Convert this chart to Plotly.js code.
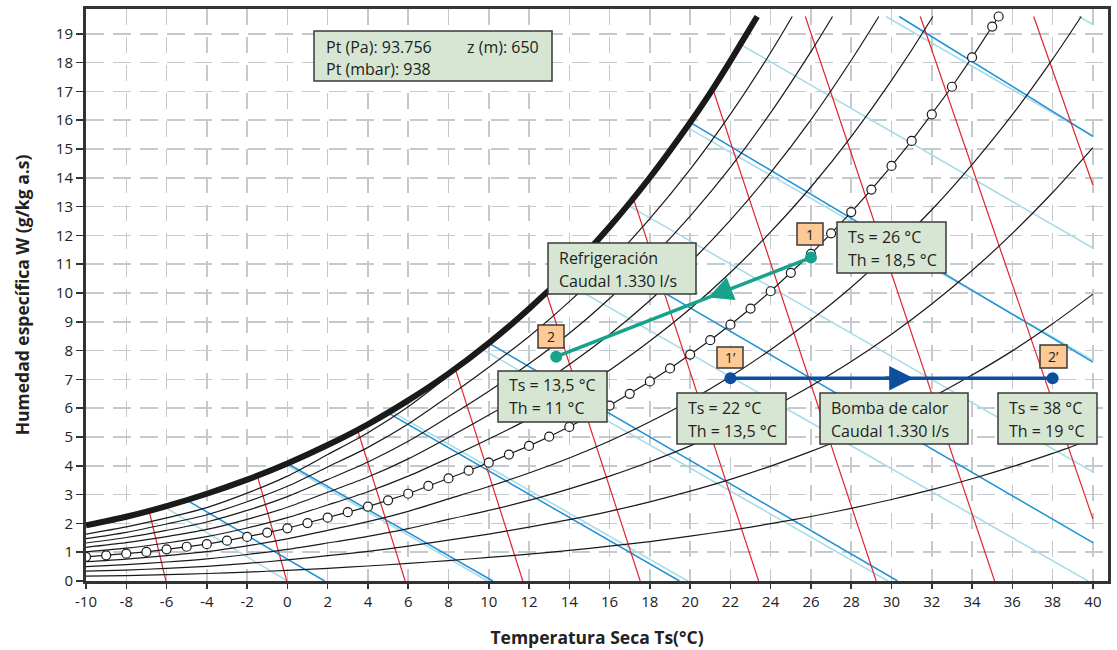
<!DOCTYPE html>
<html>
<head>
<meta charset="utf-8">
<script src="https://cdn.plot.ly/plotly-3.0.1.min.js"></script>
<style>html,body{margin:0;padding:0;background:#fff;}#chart{width:1117px;height:650px;}</style>
</head>
<body>
<div id="chart"></div>
<script>
// ---------------- DATA ----------------
// Saturation curve (thick)
const satT = [-10,-8,-6,-4,-2,0,2,4,6,8,10,12,14,16,18,20,21,22,23,23.33];
const satW = [1.93,2.23,2.60,3.03,3.52,4.08,4.72,5.44,6.27,7.20,8.26,9.45,10.79,12.30,14.01,15.92,16.95,18.06,19.22,19.6];

// Relative humidity curves (temperature grid + humidity per curve)
const rhT    = [-10,-8,-6,-4,-2,0,2,4,6,8,10,12,14,16,18,20,22,24,26,28,30,32,34,36,38,40];
const rh10W  = [0.17,0.19,0.22,0.26,0.31,0.37,0.44,0.52,0.61,0.71,0.82,0.93,1.06,1.21,1.37,1.56,1.76,1.99,2.24,2.52,2.83,3.17,3.55,3.97,4.43,4.94];
const rh20W  = [0.34,0.38,0.44,0.51,0.61,0.73,0.88,1.03,1.21,1.42,1.63,1.87,2.13,2.42,2.75,3.12,3.53,3.99,4.50,5.06,5.69,6.38,7.15,7.99,8.93,9.96];
const rh30W  = [0.50,0.57,0.66,0.77,0.92,1.10,1.32,1.55,1.82,2.14,2.45,2.80,3.20,3.64,4.14,4.69,5.31,6.00,6.77,7.62,8.57,9.62,10.78,12.07,13.49,15.05];
const rh40W  = [0.67,0.76,0.88,1.02,1.22,1.46,1.76,2.06,2.42,2.85,3.28,3.75,4.27,4.86,5.53,6.27,7.10,8.03,9.06,10.20,11.48,12.89,14.46,16.19,18.12];
const rh60W  = [1.01,1.14,1.32,1.54,1.84,2.20,2.64,3.10,3.64,4.27,4.93,5.63,6.43,7.32,8.33,9.45,10.71,12.12,13.68,15.43,17.38,19.54];
const rh70W  = [1.17,1.33,1.54,1.79,2.14,2.56,3.08,3.61,4.24,4.98,5.76,6.58,7.52,8.56,9.74,11.06,12.53,14.18,16.02,18.08];
const rh80W  = [1.32,1.51,1.76,2.05,2.45,2.93,3.52,4.13,4.85,5.70,6.59,7.54,8.60,9.81,11.16,12.67,14.36,16.26,18.38];
const rh90W  = [1.47,1.69,1.98,2.30,2.75,3.29,3.96,4.64,5.45,6.41,7.42,8.49,9.70,11.05,12.58,14.29,16.21,18.35];
const rh100W = [1.63,1.88,2.19,2.55,3.05,3.64,4.39,5.15,6.05,7.12,8.22,9.43];
// where the curves leave the chart at the top
const rhTopT = [39.42, 32.05, 29.37, 27.07, 25.07]; // 40,60,70,80,90 %
const rhTopW = 19.6;

// 50 % curve with circle markers (every 1 °C)
const circT = [-10,-9,-8,-7,-6,-5,-4,-3,-2,-1,0,1,2,3,4,5,6,7,8,9,10,11,12,13,14,15,16,17,18,19,20,21,22,23,24,25,26,27,28,29,30,31,32,33,34,35,35.32];
const circW = [0.84,0.89,0.95,1.01,1.10,1.19,1.28,1.40,1.53,1.68,1.83,2.01,2.20,2.39,2.58,2.80,3.03,3.30,3.56,3.83,4.11,4.39,4.69,5.01,5.35,5.71,6.09,6.50,6.93,7.38,7.86,8.36,8.90,9.46,10.06,10.70,11.36,12.07,12.81,13.59,14.41,15.28,16.20,17.16,18.18,19.25,19.6];

// Wet-bulb lines (blue)
const wbStartT = [-5, 0, 5, 10, 15, 20, 30.38];
const wbStartW = [2.81, 4.08, 5.84, 8.26, 11.52, 15.92, 19.6];
const wbEndT   = [1.85, 10.2, 19.47, 30.3, 40, 40, 40];
const wbEndW   = [0, 0, 0, 0, 1.33, 7.60, 15.44];

// Enthalpy lines (light blue)
const hStartT = [-6.1, -0.1, 5.14, 9.66, 13.55, 16.9, 19.85, 22.45, 29.72, 39.31];
const hStartW = [2.57, 4.05, 5.90, 8.05, 10.47, 13.05, 15.75, 18.65, 19.6, 19.6];
const hEndT   = [0, 9.94, 19.88, 29.82, 39.76, 40, 40, 40, 40, 40];
const hEndW   = [0, 0, 0, 0, 0, 3.79, 7.67, 11.56, 15.45, 19.32];

// Specific volume lines (red)
const vStartT = [-6.87, -1.49, 3.48, 8.33, 12.86, 17.18, 21.12, 25.72, 31.43, 37.06];
const vStartW = [2.44, 3.65, 5.25, 7.38, 10.0, 13.28, 17.1, 19.6, 19.6, 19.6];
const vEndT   = [-6.03, -0.03, 5.85, 11.69, 17.52, 23.4, 29.24, 35.12, 40, 40];
const vEndW   = [0, 0, 0, 0, 0, 0, 0, 0, 2.16, 13.75];

// Processes
const coolT = [26, 13.35];      // 1 -> 2
const coolW = [11.23, 7.79];
const coolArrowT = [22.0, 20.9]; // tail, tip
const coolArrowW = [10.14, 9.84];
const heatT = [22, 38];         // 1' -> 2'
const heatW = [7.04, 7.04];
const heatArrowT = [29.6, 31.1];
const heatArrowW = [7.04, 7.04];

const xTicks = [-10,-8,-6,-4,-2,0,2,4,6,8,10,12,14,16,18,20,22,24,26,28,30,32,34,36,38,40];
const yTicks = [0,1,2,3,4,5,6,7,8,9,10,11,12,13,14,15,16,17,18,19];

// ---------------- BUILD ----------------
const L = 86, R = 1108, T = 9, B = 581;
const XR = [-10, 40.75], YR = [0, 19.86];
const px2x = p => XR[0] + (p - L) * (XR[1] - XR[0]) / (R - L);
const py2y = p => YR[0] + (B - p) * (YR[1] - YR[0]) / (B - T);

function segs(sx, sy, ex, ey) {
  const x = [], y = [];
  for (let i = 0; i < sx.length; i++) { x.push(sx[i], ex[i], null); y.push(sy[i], ey[i], null); }
  return {x, y};
}
const traces = [];
const hl = segs(hStartT, hStartW, hEndT, hEndW);
traces.push({x: hl.x, y: hl.y, mode: 'lines', line: {color: '#a9dce8', width: 1.6}, hoverinfo: 'skip'});
const wl = segs(wbStartT, wbStartW, wbEndT, wbEndW);
traces.push({x: wl.x, y: wl.y, mode: 'lines', line: {color: '#1e90d8', width: 1.5}, hoverinfo: 'skip'});
const vl = segs(vStartT, vStartW, vEndT, vEndW);
traces.push({x: vl.x, y: vl.y, mode: 'lines', line: {color: '#e3242b', width: 1.2}, hoverinfo: 'skip'});

function rhTrace(W, topT) {
  const x = rhT.slice(0, W.length), y = W.slice();
  if (topT !== undefined) { x.push(topT); y.push(rhTopW); }
  return {x, y, mode: 'lines', line: {color: '#1a1a1a', width: 1.2, shape: 'spline', smoothing: 0.8}, hoverinfo: 'skip'};
}
traces.push(rhTrace(rh10W));
traces.push(rhTrace(rh20W));
traces.push(rhTrace(rh30W));
traces.push(rhTrace(rh40W, rhTopT[0]));
traces.push(rhTrace(rh60W, rhTopT[1]));
traces.push(rhTrace(rh70W, rhTopT[2]));
traces.push(rhTrace(rh80W, rhTopT[3]));
traces.push(rhTrace(rh90W, rhTopT[4]));
traces.push(rhTrace(rh100W));
traces.push({x: circT, y: circW, mode: 'lines+markers', line: {color: '#1a1a1a', width: 1.2},
  marker: {size: 9, color: '#ffffff', line: {color: '#1a1a1a', width: 1.2}}, hoverinfo: 'skip'});
traces.push({x: satT, y: satW, mode: 'lines', line: {color: '#1a1a1a', width: 6, shape: 'spline', smoothing: 0.6}, hoverinfo: 'skip'});

traces.push({x: coolT, y: coolW, mode: 'lines+markers', line: {color: '#17a38b', width: 3.5},
  marker: {size: 12, color: '#17a38b'}, hoverinfo: 'skip'});
traces.push({x: heatT, y: heatW, mode: 'lines+markers', line: {color: '#0c4f9e', width: 3.5},
  marker: {size: 12, color: '#0c4f9e'}, hoverinfo: 'skip'});

const shapes = [];
const annotations = [];
const FONT = 'Open Sans, Noto Sans, sans-serif';
function box(x0, y0, x1, y1, fill) {
  shapes.push({type: 'rect', xref: 'x', yref: 'y', x0: px2x(x0), x1: px2x(x1), y0: py2y(y0), y1: py2y(y1),
    fillcolor: fill, line: {color: '#3a3a3a', width: 1.5}, layer: 'above'});
}
function txt(x, y, s, size, anchor) {
  annotations.push({xref: 'x', yref: 'y', x: px2x(x), y: py2y(y), text: s, showarrow: false,
    xanchor: anchor || 'left', yanchor: 'middle', font: {family: FONT, size: size || 16, color: '#222'}});
}
const GREEN = '#d7e6d3', ORANGE = '#fdc995';
box(314, 31, 552, 81, GREEN);
txt(324, 46.5, 'Pt (Pa): 93.756'); txt(465, 46.5, 'z (m): 650'); txt(324, 68.5, 'Pt (mbar): 938');
box(548, 243, 696, 294, GREEN);
txt(557, 258, 'Refrigeración'); txt(557, 281, 'Caudal 1.330 l/s');
box(498, 371, 607, 422, GREEN);
txt(507, 385, 'Ts = 13,5 °C'); txt(507, 407.5, 'Th = 11 °C');
box(677, 393, 786, 444, GREEN);
txt(686, 408, 'Ts = 22 °C'); txt(686, 431, 'Th = 13,5 °C');
box(820, 393, 968, 444, GREEN);
txt(829, 408, 'Bomba de calor'); txt(829, 431, 'Caudal 1.330 l/s');
box(998, 393, 1097, 444, GREEN);
txt(1007, 408, 'Ts = 38 °C'); txt(1007, 431, 'Th = 19 °C');
box(837, 222, 946, 273, GREEN);
txt(846, 237, 'Ts = 26 °C'); txt(846, 259.5, 'Th = 18,5 °C');

box(797, 223, 823, 245, ORANGE); txt(810, 234, '1', 14, 'center');
box(538, 325, 564, 348, ORANGE); txt(551, 336.5, '2', 14, 'center');
box(717, 347, 743, 368, ORANGE); txt(730, 357.5, '1’', 14, 'center');
box(1040, 345, 1067, 368, ORANGE); txt(1053.5, 356.5, '2’', 14, 'center');

annotations.push({xref: 'x', yref: 'y', axref: 'x', ayref: 'y', x: coolArrowT[1], y: coolArrowW[1],
  ax: coolArrowT[0], ay: coolArrowW[0], showarrow: true, arrowhead: 2, arrowsize: 1.4, arrowwidth: 3.5,
  arrowcolor: '#17a38b', text: ''});
annotations.push({xref: 'x', yref: 'y', axref: 'x', ayref: 'y', x: heatArrowT[1], y: heatArrowW[1],
  ax: heatArrowT[0], ay: heatArrowW[0], showarrow: true, arrowhead: 2, arrowsize: 1.4, arrowwidth: 3.5,
  arrowcolor: '#0c4f9e', text: ''});

const layout = {
  width: 1117, height: 650,
  margin: {l: L, r: 1117 - R, t: T, b: 650 - B},
  paper_bgcolor: '#fff', plot_bgcolor: '#fff',
  showlegend: false,
  font: {family: FONT, color: '#222'},
  xaxis: {range: XR, tickvals: xTicks, ticktext: xTicks.map(String), showgrid: true, gridcolor: '#c4c9ce', gridwidth: 1.5,
    griddash: '16px,12px', zeroline: false, showline: true, mirror: true, linecolor: '#333', linewidth: 3,
    ticks: 'outside', ticklen: 5, tickwidth: 1.5, tickcolor: '#333', tickfont: {size: 15, color: '#222'},
    title: {text: '<b>Temperatura Seca Ts(°C)</b>', font: {size: 17.5, color: '#222'}, standoff: 22}, automargin: false},
  yaxis: {range: YR, tickvals: yTicks, ticktext: yTicks.map(String), showgrid: true, gridcolor: '#c4c9ce', gridwidth: 1.5,
    griddash: '18px,9px', zeroline: false, showline: true, mirror: true, linecolor: '#333', linewidth: 3,
    ticks: 'outside', ticklen: 7, tickwidth: 1.5, tickcolor: '#333', tickfont: {size: 15, color: '#222'},
    title: {text: '<b>Humedad específica W (g/kg a.s)</b>', font: {size: 17.5, color: '#222'}, standoff: 22}, automargin: false},
  shapes, annotations
};
Plotly.newPlot('chart', traces, layout, {staticPlot: true, displayModeBar: false});
</script>
</body>
</html>
